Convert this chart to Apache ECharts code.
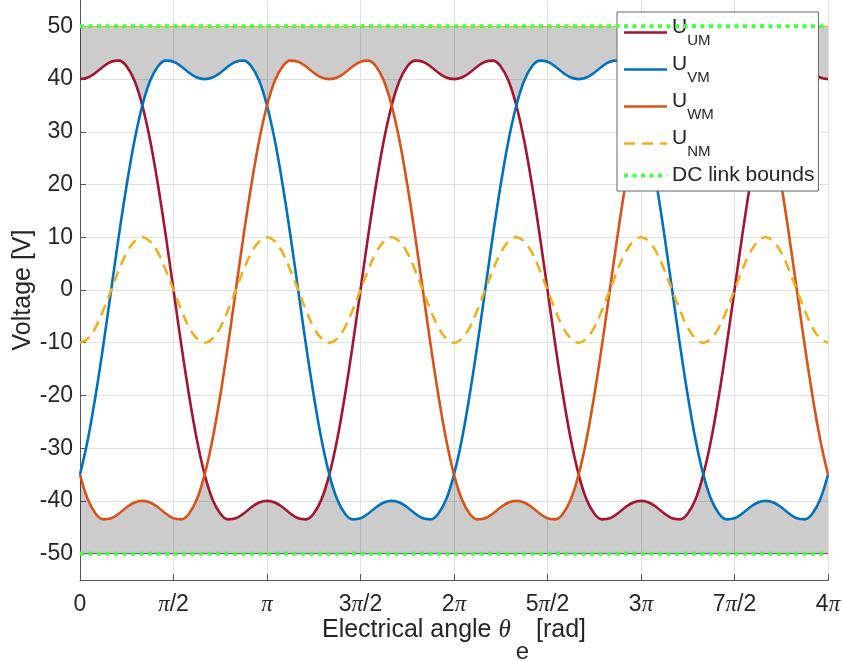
<!DOCTYPE html>
<html>
<head>
<meta charset="utf-8">
<script src="https://cdn.jsdelivr.net/npm/echarts@6/dist/echarts.min.js"></script>
<style>
html,body{margin:0;padding:0;background:#ffffff;}
#chart{width:843px;height:661px;}
</style>
</head>
<body>
<div id="chart"></div>
<script>
// ---- data (x in units of pi, sampled every pi/24) ----
const xTicks = [0, 0.5, 1, 1.5, 2, 2.5, 3, 3.5, 4];
const xTickLabels = ['0', 'π/2', 'π', '3π/2', '2π', '5π/2', '3π', '7π/2', '4π'];
const yTicks = [-50, -40, -30, -20, -10, 0, 10, 20, 30, 40, 50];
const xRange = [0, 4];
const thetaStep = 1 / 24;
const dcBounds = [50, -50];

const uUM = [40,40.3,41.2,42.4,43.3,43.5,42.4,39.7,35,28.4,20,10.4,0,-10.4,-20,-28.4,-35,-39.7,-42.4,-43.5,-43.3,-42.4,-41.2,-40.3,-40,-40.3,-41.2,-42.4,-43.3,-43.5,-42.4,-39.7,-35,-28.4,-20,-10.4,0,10.4,20,28.4,35,39.7,42.4,43.5,43.3,42.4,41.2,40.3,
40,40.3,41.2,42.4,43.3,43.5,42.4,39.7,35,28.4,20,10.4,0,-10.4,-20,-28.4,-35,-39.7,-42.4,-43.5,-43.3,-42.4,-41.2,-40.3,-40,-40.3,-41.2,-42.4,-43.3,-43.5,-42.4,-39.7,-35,-28.4,-20,-10.4,0,10.4,20,28.4,35,39.7,42.4,43.5,43.3,42.4,41.2,40.3,
40];

const uVM = [-35,-28.4,-20,-10.4,0,10.4,20,28.4,35,39.7,42.4,43.5,43.3,42.4,41.2,40.3,40,40.3,41.2,42.4,43.3,43.5,42.4,39.7,35,28.4,20,10.4,0,-10.4,-20,-28.4,-35,-39.7,-42.4,-43.5,-43.3,-42.4,-41.2,-40.3,-40,-40.3,-41.2,-42.4,-43.3,-43.5,-42.4,-39.7,
-35,-28.4,-20,-10.4,0,10.4,20,28.4,35,39.7,42.4,43.5,43.3,42.4,41.2,40.3,40,40.3,41.2,42.4,43.3,43.5,42.4,39.7,35,28.4,20,10.4,0,-10.4,-20,-28.4,-35,-39.7,-42.4,-43.5,-43.3,-42.4,-41.2,-40.3,-40,-40.3,-41.2,-42.4,-43.3,-43.5,-42.4,-39.7,
-35];

const uWM = [-35,-39.7,-42.4,-43.5,-43.3,-42.4,-41.2,-40.3,-40,-40.3,-41.2,-42.4,-43.3,-43.5,-42.4,-39.7,-35,-28.4,-20,-10.4,0,10.4,20,28.4,35,39.7,42.4,43.5,43.3,42.4,41.2,40.3,40,40.3,41.2,42.4,43.3,43.5,42.4,39.7,35,28.4,20,10.4,0,-10.4,-20,-28.4,
-35,-39.7,-42.4,-43.5,-43.3,-42.4,-41.2,-40.3,-40,-40.3,-41.2,-42.4,-43.3,-43.5,-42.4,-39.7,-35,-28.4,-20,-10.4,0,10.4,20,28.4,35,39.7,42.4,43.5,43.3,42.4,41.2,40.3,40,40.3,41.2,42.4,43.3,43.5,42.4,39.7,35,28.4,20,10.4,0,-10.4,-20,-28.4,
-35];

const uNM = [-10,-9.2,-7.1,-3.8,0,3.8,7.1,9.2,10,9.2,7.1,3.8,0,-3.8,-7.1,-9.2,
-10,-9.2,-7.1,-3.8,0,3.8,7.1,9.2,10,9.2,7.1,3.8,0,-3.8,-7.1,-9.2,
-10,-9.2,-7.1,-3.8,0,3.8,7.1,9.2,10,9.2,7.1,3.8,0,-3.8,-7.1,-9.2,
-10,-9.2,-7.1,-3.8,0,3.8,7.1,9.2,10,9.2,7.1,3.8,0,-3.8,-7.1,-9.2,
-10,-9.2,-7.1,-3.8,0,3.8,7.1,9.2,10,9.2,7.1,3.8,0,-3.8,-7.1,-9.2,
-10,-9.2,-7.1,-3.8,0,3.8,7.1,9.2,10,9.2,7.1,3.8,0,-3.8,-7.1,-9.2,
-10];

// upper / lower envelope of the three phase voltages (edge of the grey band)
const envUpper = [40,40.3,41.2,42.4,43.3,43.5,42.4,39.7,35,39.7,42.4,43.5,43.3,42.4,41.2,40.3,
40,40.3,41.2,42.4,43.3,43.5,42.4,39.7,35,39.7,42.4,43.5,43.3,42.4,41.2,40.3,
40,40.3,41.2,42.4,43.3,43.5,42.4,39.7,35,39.7,42.4,43.5,43.3,42.4,41.2,40.3,
40,40.3,41.2,42.4,43.3,43.5,42.4,39.7,35,39.7,42.4,43.5,43.3,42.4,41.2,40.3,
40,40.3,41.2,42.4,43.3,43.5,42.4,39.7,35,39.7,42.4,43.5,43.3,42.4,41.2,40.3,
40,40.3,41.2,42.4,43.3,43.5,42.4,39.7,35,39.7,42.4,43.5,43.3,42.4,41.2,40.3,
40];
const envLower = [-35,-39.7,-42.4,-43.5,-43.3,-42.4,-41.2,-40.3,-40,-40.3,-41.2,-42.4,-43.3,-43.5,-42.4,-39.7,
-35,-39.7,-42.4,-43.5,-43.3,-42.4,-41.2,-40.3,-40,-40.3,-41.2,-42.4,-43.3,-43.5,-42.4,-39.7,
-35,-39.7,-42.4,-43.5,-43.3,-42.4,-41.2,-40.3,-40,-40.3,-41.2,-42.4,-43.3,-43.5,-42.4,-39.7,
-35,-39.7,-42.4,-43.5,-43.3,-42.4,-41.2,-40.3,-40,-40.3,-41.2,-42.4,-43.3,-43.5,-42.4,-39.7,
-35,-39.7,-42.4,-43.5,-43.3,-42.4,-41.2,-40.3,-40,-40.3,-41.2,-42.4,-43.3,-43.5,-42.4,-39.7,
-35,-39.7,-42.4,-43.5,-43.3,-42.4,-41.2,-40.3,-40,-40.3,-41.2,-42.4,-43.3,-43.5,-42.4,-39.7,
-35];

const seriesNames = ['U_UM', 'U_VM', 'U_WM', 'U_NM', 'DC link bounds'];

// ---- chart ----
const theta = uUM.map((_, i) => i * thetaStep);
const pair = arr => arr.map((v, i) => [theta[i], v]);
const TXT = '#262626';
const SANS = '"Liberation Sans", Arial, Helvetica, sans-serif';
const SERIF = '"Liberation Serif", "Times New Roman", serif';
const AX = '#555555';
const GRID = '#e2e2e2';

function xLabel(v) {
  const k = Math.round(v / 0.5);
  const s = xTickLabels[k];
  if (s === undefined) return '';
  const parts = s.split('π');
  if (parts.length === 1) return '{n|' + s + '}';
  return (parts[0] ? '{n|' + parts[0] + '}' : '') + '{p|π}' + (parts[1] ? '{n|' + parts[1] + '}' : '');
}
function legendLabel(name) {
  const i = name.indexOf('_');
  if (i < 0) return '{d|' + name + '}';
  return '{u|' + name.slice(0, i) + '}{s|' + name.slice(i + 1) + '}';
}

const chart = echarts.init(document.getElementById('chart'), null, { renderer: 'canvas' });
const line = (name, data, color, width, type, extra) => Object.assign({
  name: name, type: 'line', data: data, symbol: 'none', showSymbol: false,
  smooth: 0.4, silent: true, animation: false,
  lineStyle: { color: color, width: width, type: type || 'solid' },
  itemStyle: { color: color }
}, extra || {});

chart.setOption({
  animation: false,
  backgroundColor: '#ffffff',
  grid: { left: 80, right: 15, top: 0, bottom: 81, containLabel: false, outerBoundsMode: 'none' },
  xAxis: {
    type: 'value', min: xRange[0], max: xRange[1], interval: 0.5,
    axisLine: { show: true, onZero: false, lineStyle: { color: AX, width: 1 } },
    axisTick: { show: true, inside: true, length: 6, lineStyle: { color: AX, width: 1 } },
    axisLabel: {
      margin: 13, formatter: xLabel, color: TXT,
      rich: {
        n: { fontSize: 23, fontFamily: SANS, color: TXT, lineHeight: 23 },
        p: { fontSize: 23, fontFamily: SERIF, fontStyle: 'italic', color: TXT, lineHeight: 23 }
      }
    },
    splitLine: { show: true, lineStyle: { color: GRID, width: 1 } },
    name: '{m|Electrical angle }{t|θ}{s|e}{m| [rad]}',
    nameLocation: 'middle', nameGap: 38, nameMoveOverlap: false,
    nameTextStyle: {
      rich: {
        m: { fontSize: 25, fontFamily: SANS, color: TXT, lineHeight: 25, verticalAlign: 'top' },
        t: { fontSize: 25, fontFamily: SERIF, fontStyle: 'italic', color: TXT, lineHeight: 25, verticalAlign: 'top' },
        s: { fontSize: 24, fontFamily: SANS, color: TXT, lineHeight: 46, padding: [21, 0, 0, 5], verticalAlign: 'bottom' }
      }
    }
  },
  yAxis: {
    type: 'value', min: -55, max: 55, splitNumber: 11,
    axisLine: { show: true, onZero: false, lineStyle: { color: AX, width: 1 } },
    axisTick: { show: true, inside: true, length: 6, customValues: yTicks, lineStyle: { color: AX, width: 1 } },
    axisLabel: {
      customValues: yTicks, margin: 7, fontSize: 23, fontFamily: SANS, color: TXT,
      formatter: v => (Math.abs(v % 10) < 1e-9 ? String(v) : '')
    },
    splitLine: { show: true, showMinLine: false, showMaxLine: false, lineStyle: { color: GRID, width: 1 } },
    name: 'Voltage [V]', nameLocation: 'middle', nameGap: 44, nameMoveOverlap: false,
    nameTextStyle: { fontSize: 25, fontFamily: SANS, color: TXT }
  },
  legend: {
    data: seriesNames,
    orient: 'vertical', left: 617, top: 12,
    padding: [5, 4, 5, 5], itemGap: 6, itemWidth: 43, itemHeight: 14,
    backgroundColor: '#ffffff', borderColor: '#666666', borderWidth: 1, borderRadius: 0,
    selectedMode: false,
    formatter: legendLabel,
    itemStyle: { opacity: 0, borderWidth: 0 },
    lineStyle: { width: 'inherit' },
    textStyle: {
      color: TXT,
      rich: {
        u: { fontSize: 21, fontFamily: SANS, color: TXT, lineHeight: 21, verticalAlign: 'top' },
        s: { fontSize: 15, fontFamily: SANS, color: TXT, lineHeight: 31, padding: [16, 0, 0, 0], verticalAlign: 'bottom' },
        d: { fontSize: 21, fontFamily: SANS, color: TXT, lineHeight: 21 }
      }
    }
  },
  series: [
    line('envUpper', pair(envUpper), '#000000', 0, 'solid', {
      smooth: false, lineStyle: { width: 0, opacity: 0 },
      areaStyle: { origin: dcBounds[0], color: 'rgba(0,0,0,0.2)', opacity: 1 }, z: 1
    }),
    line('envLower', pair(envLower), '#000000', 0, 'solid', {
      smooth: false, lineStyle: { width: 0, opacity: 0 },
      areaStyle: { origin: dcBounds[1], color: 'rgba(0,0,0,0.2)', opacity: 1 }, z: 1
    }),
    line('edgeUpper', [[xRange[0], dcBounds[0]], [xRange[1], dcBounds[0]]], '#EDB120', 1, 'solid', { smooth: false, z: 2 }),
    line('edgeLower', [[xRange[0], dcBounds[1]], [xRange[1], dcBounds[1]]], '#7E2F8E', 1, 'solid', { smooth: false, z: 2 }),
    line(seriesNames[0], pair(uUM), '#A2142F', 2.6, 'solid', { z: 3 }),
    line(seriesNames[1], pair(uVM), '#0072BD', 2.6, 'solid', { z: 3 }),
    line(seriesNames[2], pair(uWM), '#D95319', 2.6, 'solid', { z: 3 }),
    line(seriesNames[3], pair(uNM), '#EDB120', 2.6, [11, 7], { z: 3 }),
    line(seriesNames[4], [[xRange[0], dcBounds[0]], [xRange[1], dcBounds[0]]], '#44FF44', 4, [4, 4.5], { smooth: false, z: 4 }),
    line(seriesNames[4], [[xRange[0], dcBounds[1]], [xRange[1], dcBounds[1]]], '#44FF44', 4, [4, 4.5], { smooth: false, z: 4 })
  ]
});
</script>
</body>
</html>
